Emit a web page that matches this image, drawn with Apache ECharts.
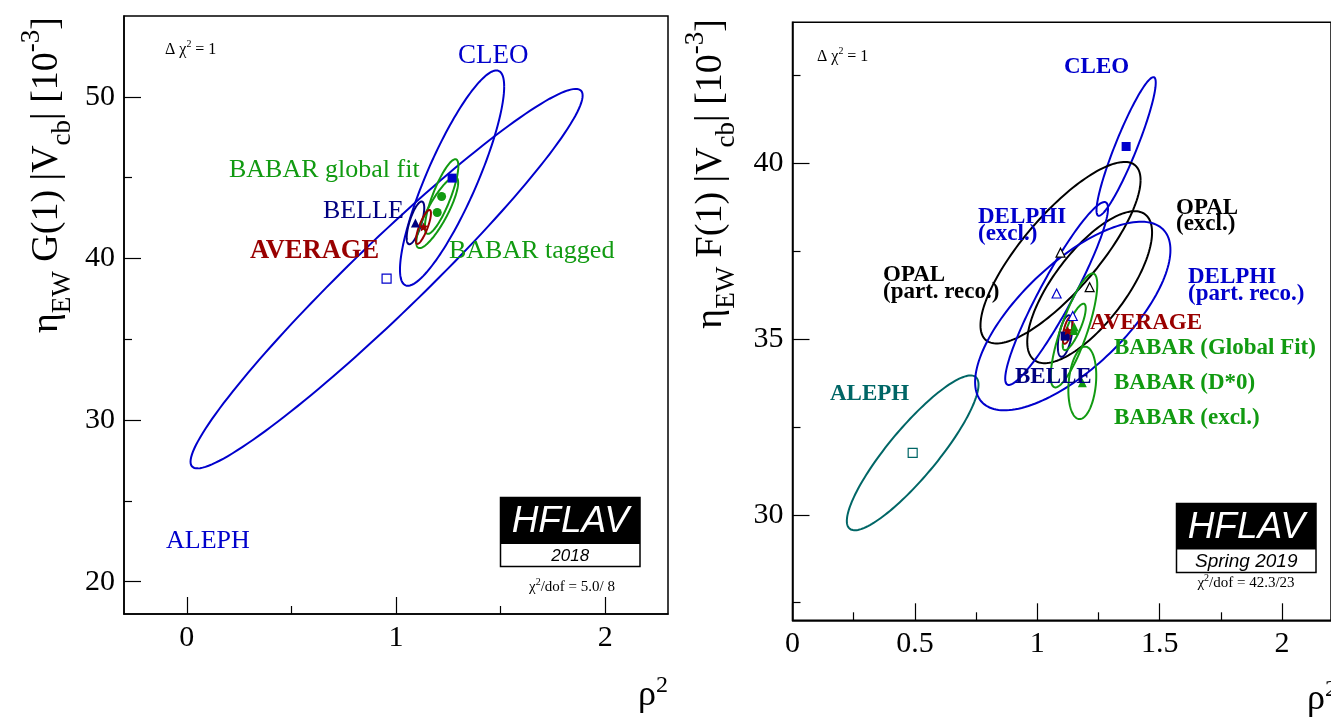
<!DOCTYPE html>
<html>
<head>
<meta charset="utf-8">
<script src="https://cdn.jsdelivr.net/npm/echarts@6/dist/echarts.min.js"></script>
<style>
  html, body { margin: 0; padding: 0; background: #fff; }
  #chart { width: 1331px; height: 717px; }
</style>
</head>
<body>
<div id="chart"></div>
<script>
// ---- left panel: eta_EW G(1)|Vcb| vs rho^2 (B -> D l nu) ----
const leftNames = ['ALEPH', 'CLEO', 'BELLE', 'BABAR global fit', 'BABAR tagged', 'AVERAGE']
const leftRho2 = [0.955, 1.268, 1.093, 1.218, 1.197, 1.131]
const leftVcb = [38.75, 44.97, 42.2, 43.83, 42.84, 41.95]
const leftRho2Err = [0.937, 0.249, 0.042, 0.080, 0.100, 0.036]
const leftVcbErr = [11.74, 6.66, 1.32, 2.31, 2.20, 1.05]
const leftCorr = [0.965, 0.85, 0.70, 0.82, 0.84, 0.80]

const leftXMajor = [0, 1, 2]
const leftXMinor = [0.5, 1.5]
const leftYMajor = [20, 30, 40, 50]
const leftYMinor = [25, 35, 45]

// ---- right panel: eta_EW F(1)|Vcb| vs rho^2 (B -> D* l nu) ----
const rightNames = ['ALEPH', 'CLEO', 'OPAL (part. reco.)', 'OPAL (excl.)', 'DELPHI (part. reco.)',
    'DELPHI (excl.)', 'BELLE', 'BABAR (excl.)', 'BABAR (D*0)', 'BABAR (Global Fit)', 'AVERAGE']
const rightRho2 = [0.491, 1.363, 1.095, 1.214, 1.145, 1.079, 1.114, 1.150, 1.184, 1.151, 1.124]
const rightVcb = [31.76, 40.47, 37.45, 36.47, 35.65, 36.29, 35.08, 35.24, 33.75, 35.34, 35.24]
const rightRho2Err = [0.269, 0.121, 0.327, 0.255, 0.399, 0.210, 0.030, 0.095, 0.057, 0.047, 0.020]
const rightVcbErr = [2.20, 1.97, 2.58, 2.16, 2.68, 2.60, 0.59, 1.62, 1.03, 0.66, 0.38]
const rightCorr = [0.88, 0.92, 0.80, 0.72, 0.70, 0.93, 0.50, 0.80, 0.20, 0.80, 0.60]

const rightXMajor = [0, 0.5, 1, 1.5, 2]
const rightXMinor = [0.25, 0.75, 1.25, 1.75]
const rightYMajor = [30, 35, 40]
const rightYMinor = [27.5, 32.5, 37.5, 42.5]

// colours / marker styles per experiment
const BLUE = '#0000cc', GREEN = '#119a11', RED = '#990000', NAVY = '#000080', TEAL = '#006666'
const styleOf = {
    'ALEPH': { color: BLUE, symbol: 'rect', open: true },
    'CLEO': { color: BLUE, symbol: 'rect', open: false },
    'BELLE': { color: NAVY, symbol: 'triangle', open: false },
    'BABAR global fit': { color: GREEN, symbol: 'circle', open: false },
    'BABAR tagged': { color: GREEN, symbol: 'circle', open: false },
    'AVERAGE': { color: RED, symbol: 'star', open: false },
}
const styleOfRight = {
    'ALEPH': { color: TEAL, symbol: 'rect', open: true },
    'CLEO': { color: BLUE, symbol: 'rect', open: false },
    'OPAL (part. reco.)': { color: '#000', symbol: 'triangle', open: true },
    'OPAL (excl.)': { color: '#000', symbol: 'triangle', open: true },
    'DELPHI (part. reco.)': { color: BLUE, symbol: 'triangle', open: true },
    'DELPHI (excl.)': { color: BLUE, symbol: 'triangle', open: true },
    'BELLE': { color: NAVY, symbol: 'rect', open: false },
    'BABAR (excl.)': { color: GREEN, symbol: 'triangle', open: false },
    'BABAR (D*0)': { color: GREEN, symbol: 'triangle', open: false },
    'BABAR (Global Fit)': { color: GREEN, symbol: 'triangle', open: false },
    'AVERAGE': { color: RED, symbol: 'star', open: false },
}

const SERIF = '"Liberation Serif", "Times New Roman", serif'
const SANS = '"Liberation Sans", Arial, sans-serif'
const STAR = 'path://M0,-10L2.9,-4L9.5,-3.1L4.7,1.5L5.9,8.1L0,5L-5.9,8.1L-4.7,1.5L-9.5,-3.1L-2.9,-4Z'

let chart = echarts.init(document.getElementById('chart'), null, { renderer: 'canvas' })

function mainAxis(gridIndex, pos, min, max, ticks) {
    return {
        type: 'value', gridIndex: gridIndex, position: pos, min: min, max: max,
        axisLine: { show: true, onZero: false, lineStyle: { color: '#000', width: 1.5 } },
        splitLine: { show: false },
        axisTick: { show: true, inside: true, length: 17, customValues: ticks, lineStyle: { color: '#000', width: 1.2 } },
        axisLabel: { customValues: ticks, color: '#000', fontFamily: SERIF, fontSize: 30, margin: 9 },
    }
}
function minorAxis(gridIndex, pos, min, max, ticks) {
    return {
        type: 'value', gridIndex: gridIndex, position: pos, min: min, max: max,
        axisLine: { show: false, onZero: false },
        splitLine: { show: false },
        axisTick: { show: true, inside: true, length: 8, customValues: ticks, lineStyle: { color: '#000', width: 1.2 } },
        axisLabel: { show: false },
    }
}

function ellipseData(rho2, vcb, ex, ey, corr, names, styles) {
    return rho2.map((x, i) => ({
        name: names[i],
        value: [x, vcb[i], ex[i], ey[i], corr[i]],
        itemStyle: { color: styles[names[i]].color },
    }))
}

// Delta chi2 = 1 contour drawn from centre, errors and correlation
function renderEllipse(params, api) {
    const cx = api.value(0), cy = api.value(1)
    const sx = api.value(2), sy = api.value(3), r = api.value(4)
    const pts = []
    const n = 160
    for (let i = 0; i <= n; ++i) {
        const t = 2 * Math.PI * i / n
        pts.push(api.coord([cx + sx * Math.cos(t), cy + sy * (r * Math.cos(t) + Math.sqrt(1 - r * r) * Math.sin(t))]))
    }
    return {
        type: 'polyline',
        shape: { points: pts },
        style: { stroke: api.visual('color'), fill: null, lineWidth: 2 },
    }
}

function markerSeries(rho2, vcb, names, styles, xi, yi) {
    return {
        type: 'scatter', xAxisIndex: xi, yAxisIndex: yi, z: 5,
        data: rho2.map((x, i) => {
            const s = styles[names[i]]
            return {
                value: [x, vcb[i]],
                symbol: s.symbol === 'star' ? STAR : s.symbol,
                symbolSize: 9,
                itemStyle: s.open
                    ? { color: '#fff', borderColor: s.color, borderWidth: 1.2, opacity: 1 }
                    : { color: s.color, opacity: 1 },
            }
        }),
    }
}

function txt(x, y, text, color, size, bold, align) {
    return {
        type: 'text', x: x, y: y, z: 20,
        style: {
            text: text, fill: color, textAlign: align || 'left', textVerticalAlign: 'middle',
            font: (bold ? 'bold ' : '') + size + 'px ' + SERIF,
        },
    }
}
function txt2(x, y, l1, l2, color, size, gap) {
    return [txt(x, y, l1, color, size, true), txt(x, y + gap, l2, color, size, true)]
}
function chiText(x, y, size) {
    return {
        type: 'text', x: x, y: y, z: 20,
        style: {
            text: '{t|Δ χ}{p|2}{t| = 1}', textAlign: 'left', textVerticalAlign: 'middle',
            rich: {
                t: { fontFamily: SERIF, fontSize: size, lineHeight: size + 6, color: '#000' },
                p: { fontFamily: SERIF, fontSize: size * 0.62, lineHeight: size * 0.62, verticalAlign: 'top', color: '#000' },
            },
        },
    }
}
function dofText(x, y, a) {
    return {
        type: 'text', x: x, y: y, z: 20,
        style: {
            text: '{t|χ}{p|2}{t|/dof = ' + a + '}', textAlign: 'center', textVerticalAlign: 'middle',
            rich: {
                t: { fontFamily: SERIF, fontSize: 15, lineHeight: 19, color: '#000' },
                p: { fontFamily: SERIF, fontSize: 10, lineHeight: 10, verticalAlign: 'top', color: '#000' },
            },
        },
    }
}
function yTitle(x, y, letter) {
    return {
        type: 'text', x: x, y: y, rotation: Math.PI / 2, z: 20,
        style: {
            text: '{m|η}{s|EW}{m| ' + letter + '(1) |V}{s|cb}{m|| [10}{p|-3}{m|]}',
            textAlign: 'right', textVerticalAlign: 'middle',
            rich: {
                m: { fontFamily: SERIF, fontSize: 38, lineHeight: 58, color: '#000' },
                s: { fontFamily: SERIF, fontSize: 27, lineHeight: 27, verticalAlign: 'bottom', color: '#000' },
                p: { fontFamily: SERIF, fontSize: 27, lineHeight: 27, verticalAlign: 'top', color: '#000' },
            },
        },
    }
}
function xTitle(x, y) {
    return {
        type: 'text', x: x, y: y, z: 20,
        style: {
            text: '{m|ρ}{p|2}', textAlign: 'right', textVerticalAlign: 'middle',
            rich: {
                m: { fontFamily: SERIF, fontSize: 36, lineHeight: 44, color: '#000' },
                p: { fontFamily: SERIF, fontSize: 24, lineHeight: 24, verticalAlign: 'top', color: '#000' },
            },
        },
    }
}
function logo(x, y, w, h1, h2, sub, subSize) {
    return [
        { type: 'rect', z: 20, shape: { x: x, y: y, width: w, height: h1 + h2 }, style: { fill: '#fff', stroke: '#000', lineWidth: 1.5 } },
        { type: 'rect', z: 21, shape: { x: x, y: y, width: w, height: h1 }, style: { fill: '#000' } },
        {
            type: 'text', z: 22, x: x + w / 2, y: y + h1 / 2 + 1,
            style: { text: 'HFLAV', fill: '#fff', textAlign: 'center', textVerticalAlign: 'middle', font: 'italic 37px ' + SANS },
        },
        {
            type: 'text', z: 22, x: x + w / 2, y: y + h1 + h2 / 2 + 1,
            style: { text: sub, fill: '#000', textAlign: 'center', textVerticalAlign: 'middle', font: 'italic ' + subSize + 'px ' + SANS },
        },
    ]
}

let graphics = [
    yTitle(47, 17, 'G'),
    yTitle(711, 19, 'F'),
    xTitle(668, 696),
    xTitle(1337, 700),
    chiText(165, 50, 16),
    chiText(817, 57, 16),
    // left labels
    txt(458, 56, 'CLEO', BLUE, 27),
    txt(229, 170, 'BABAR global fit', GREEN, 26),
    txt(323, 211, 'BELLE', NAVY, 26),
    txt(250, 251, 'AVERAGE', RED, 26.5, true),
    txt(449, 251, 'BABAR tagged', GREEN, 26),
    txt(166, 541, 'ALEPH', BLUE, 26),
    dofText(572, 587, '5.0/ 8'),
    // right labels
    txt(1064, 67, 'CLEO', BLUE, 23, true),
    ...txt2(978, 217, 'DELPHI', '(excl.)', BLUE, 23, 17),
    ...txt2(883, 275, 'OPAL', '(part. reco.)', '#000', 23, 17),
    ...txt2(1176, 208, 'OPAL', '(excl.)', '#000', 23, 16),
    ...txt2(1188, 277, 'DELPHI', '(part. reco.)', BLUE, 23, 17),
    txt(1090, 323, 'AVERAGE', RED, 23, true),
    txt(1114, 348, 'BABAR (Global Fit)', GREEN, 23, true),
    txt(1015, 377, 'BELLE', NAVY, 23, true),
    txt(1114, 383, 'BABAR (D*0)', GREEN, 23, true),
    txt(1114, 418, 'BABAR (excl.)', GREEN, 23, true),
    txt(830, 394, 'ALEPH', TEAL, 23, true),
    dofText(1246, 583, '42.3/23'),
    ...logo(500.5, 497.5, 139.5, 46.5, 22.5, '2018', 17),
    ...logo(1176.5, 503.5, 139.5, 46, 23, 'Spring 2019', 19),
]

let options = {
    backgroundColor: '#fff',
    animation: false,
    grid: [
        { left: 124, top: 16, width: 544, height: 598, show: true, borderColor: '#000', borderWidth: 1.5, backgroundColor: 'transparent' },
        { left: 792.5, top: 22.3, width: 544, height: 598, show: true, borderColor: '#000', borderWidth: 1.5, backgroundColor: 'transparent' },
    ],
    xAxis: [
        mainAxis(0, 'bottom', -0.3, 2.3, leftXMajor),
        minorAxis(0, 'bottom', -0.3, 2.3, leftXMinor),
        mainAxis(1, 'bottom', 0, 2.2, rightXMajor),
        minorAxis(1, 'bottom', 0, 2.2, rightXMinor),
    ],
    yAxis: [
        mainAxis(0, 'left', 18, 55, leftYMajor),
        minorAxis(0, 'left', 18, 55, leftYMinor),
        mainAxis(1, 'left', 27, 44, rightYMajor),
        minorAxis(1, 'left', 27, 44, rightYMinor),
    ],
    series: [
        {
            type: 'custom', xAxisIndex: 0, yAxisIndex: 0, coordinateSystem: 'cartesian2d',
            encode: { x: 0, y: 1 }, clip: true, renderItem: renderEllipse,
            data: ellipseData(leftRho2, leftVcb, leftRho2Err, leftVcbErr, leftCorr, leftNames, styleOf),
        },
        markerSeries(leftRho2, leftVcb, leftNames, styleOf, 0, 0),
        {
            type: 'custom', xAxisIndex: 2, yAxisIndex: 2, coordinateSystem: 'cartesian2d',
            encode: { x: 0, y: 1 }, clip: true, renderItem: renderEllipse,
            data: ellipseData(rightRho2, rightVcb, rightRho2Err, rightVcbErr, rightCorr, rightNames, styleOfRight),
        },
        markerSeries(rightRho2, rightVcb, rightNames, styleOfRight, 2, 2),
    ],
    graphic: graphics,
}

chart.setOption(options)
</script>
</body>
</html>
